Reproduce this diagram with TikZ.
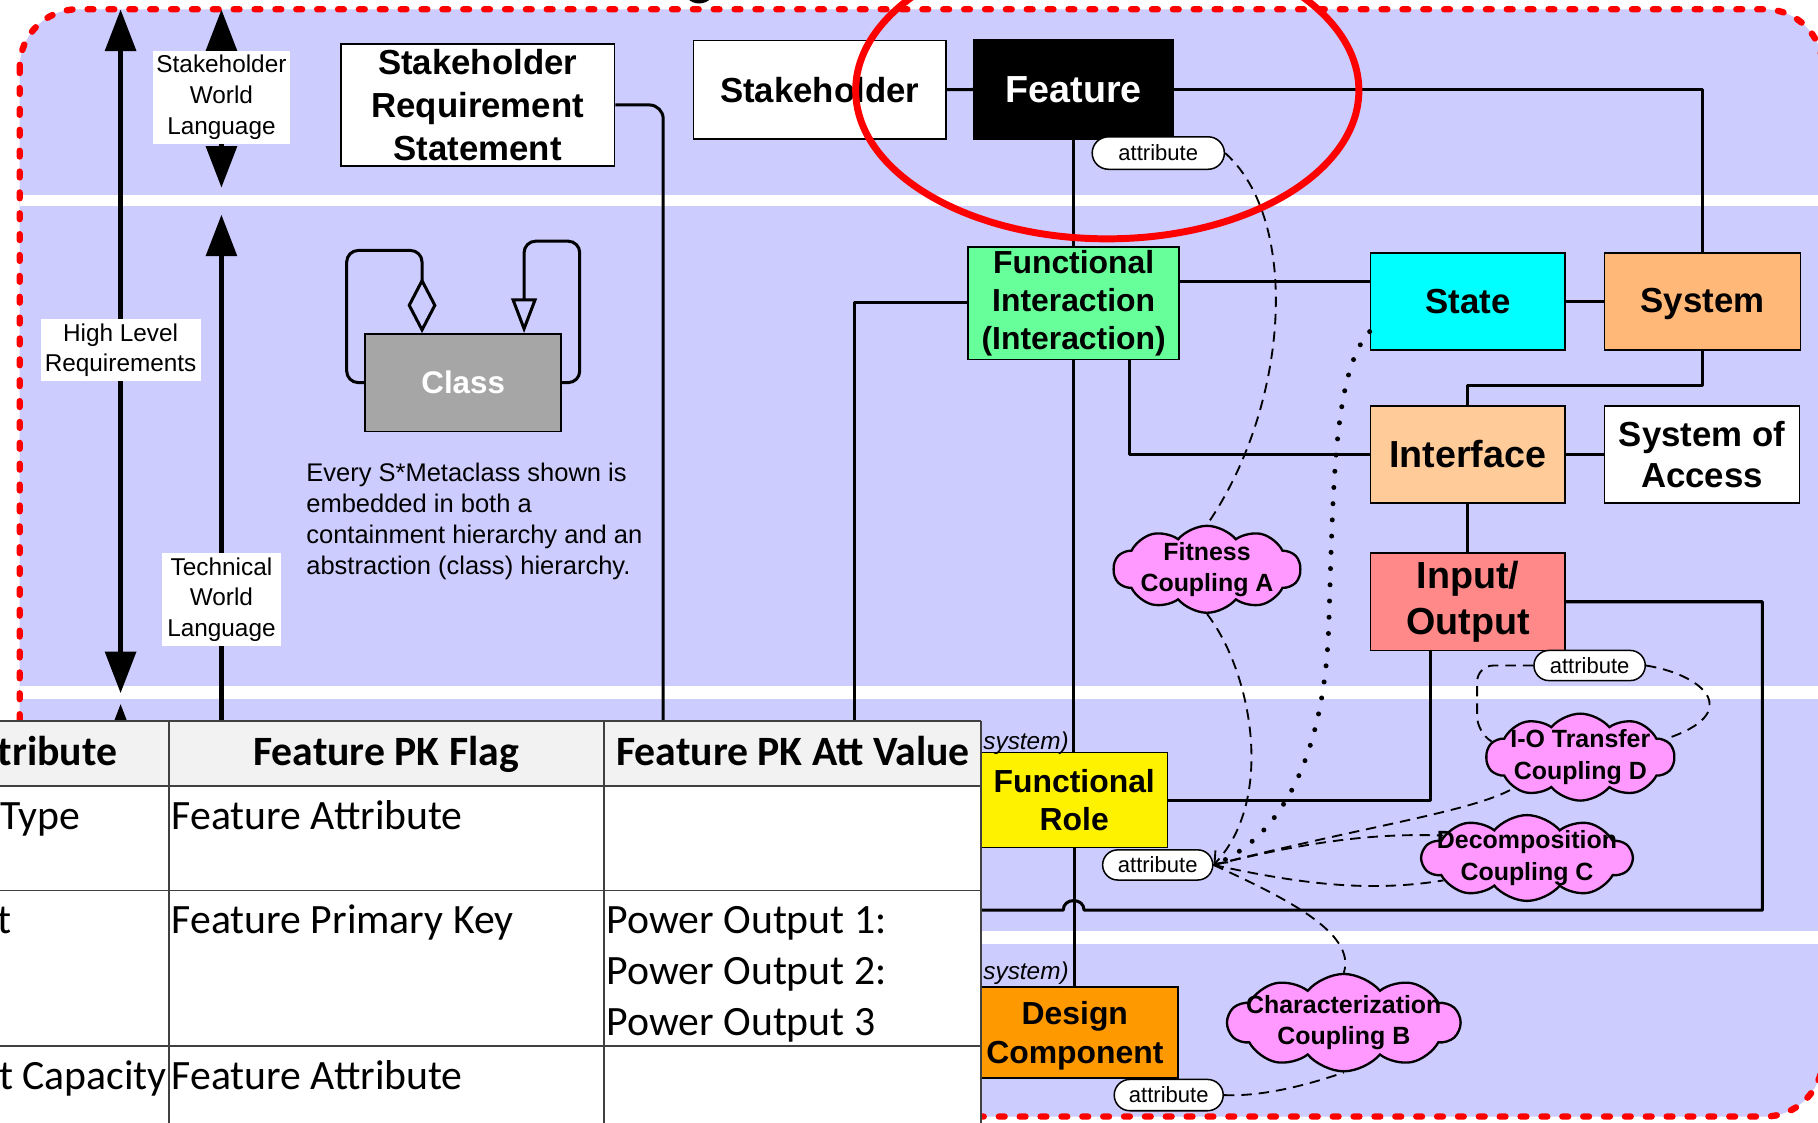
\documentclass[tikz,border=0pt]{standalone}
\usepackage{fontspec}
\setmainfont{Liberation Sans}
\newfontfamily\tabfont{Carlito}
\usetikzlibrary{arrows.meta,shapes.symbols,shapes.misc}

\definecolor{lav}{HTML}{CCCCFF}
\definecolor{figreen}{HTML}{66FF99}
\definecolor{statecyan}{HTML}{00FFFF}
\definecolor{sysorange}{HTML}{FFB877}
\definecolor{intpeach}{HTML}{FFCC99}
\definecolor{iosalmon}{HTML}{FF8888}
\definecolor{dcorange}{HTML}{FF9900}
\definecolor{clsgrey}{HTML}{A6A6A6}
\definecolor{cloudpink}{HTML}{FF99FF}
\definecolor{hdrgrey}{HTML}{F2F2F2}
\definecolor{gridgrey}{HTML}{404040}
\definecolor{ovalred}{HTML}{FF0000}

\newcommand\fsz[2]{\fontsize{#1}{#2}\selectfont}
\newcommand\bfs[2]{\bfseries\fontsize{#1}{#2}\selectfont}

\tikzset{
  bigtip/.tip={Triangle[length=36pt,width=26pt]},
  box/.style={draw=black, line width=1.4pt, align=center, inner sep=0pt},
  conn/.style={line width=2.6pt, line join=round},
  link/.style={line width=1.6pt, dash pattern=on 9pt off 6pt},
  dotlink/.style={line width=4.3pt, line cap=round, dash pattern=on 0pt off 14pt},
  pill/.style={draw=black, fill=white, line width=1.3pt, rounded rectangle,
    inner sep=0pt, font=\fsz{19}{22}},
  coupling/.style={cloud, cloud puffs=10, cloud puff arc=100, cloud ignores aspect,
    draw=black, line width=2pt, fill=cloudpink, inner sep=0pt},
  cloudtext/.style={align=center, inner sep=0pt, font=\bfs{21.5}{27}},
  sidelabel/.style={fill=white, align=center, inner sep=2pt, font=\fsz{21}{26.5}},
  bigarrow/.style={line width=5pt},
  hdr/.style={inner sep=0pt, font=\tabfont\bfseries\fsz{36}{44}},
  cell/.style={inner sep=0pt, font=\tabfont\fsz{36}{44}},
}

\begin{document}
\begin{tikzpicture}[x=1pt,y=-1pt]
\useasboundingbox (0,0) rectangle (1568,968);
\clip (0,0) rectangle (1568,968);
\fill[white] (0,0) rectangle (1568,968);

% lavender canvas and the white bands between layers
\fill[lav, rounded corners=50pt] (17,8) rectangle (1572,963);
\fill[white] (17,168) rectangle (1572,178);
\fill[white] (17,592) rectangle (1572,603);
\fill[white] (17,803) rectangle (1572,814);

\fill (603,-11) circle[radius=14pt];

% ---------- metaclass boxes ----------
\node[box, fill=white, minimum width=236pt, minimum height=105pt, font=\bfs{30}{37}] (srs) at (412,90.5) {Stakeholder\\Requirement\\Statement};
\node[box, fill=white, minimum width=218pt, minimum height=85pt, font=\bfs{30}{36}] (stk) at (707,77.5) {Stakeholder};
\node[box, fill=black, text=white, minimum width=172pt, minimum height=86pt, font=\bfs{32.5}{38}] (feat) at (926,77) {Feature};
\node[box, fill=figreen, minimum width=182pt, minimum height=97pt, font=\bfs{27.5}{33}] (fi) at (926,261.5) {Functional\\Interaction\\(Interaction)};
\node[box, fill=statecyan, minimum width=168pt, minimum height=84pt, font=\bfs{30}{36}] (state) at (1266,260) {State};
\node[box, fill=sysorange, minimum width=169pt, minimum height=84pt, font=\bfs{30}{36}, text depth=2pt] (sys) at (1468.5,260) {System};
\node[box, fill=intpeach, minimum width=168pt, minimum height=84pt, font=\bfs{32.5}{38}] (intf) at (1266,392) {Interface};
\node[box, fill=white, minimum width=168pt, minimum height=84pt, font=\bfs{30}{36}] (soa) at (1468,392) {System of\\Access};
\node[box, fill=iosalmon, minimum width=168pt, minimum height=84pt, font=\bfs{32.5}{40}] (io) at (1266,519) {Input/\\Output};
\node[box, fill=yellow, minimum width=161pt, minimum height=82pt, font=\bfs{27.5}{33}] (fr) at (926.5,690) {Functional\\Role};
\node[box, fill=dcorange, minimum width=170pt, minimum height=79pt, font=\bfs{27.5}{34}, text depth=0pt] (dc) at (931,890.5) {\hspace*{-8pt}Design\\\hspace*{-8pt}Component};
\node[box, fill=clsgrey, text=white, minimum width=169pt, minimum height=84pt, font=\bfs{27}{33}] (cls) at (399.5,330) {Class};

% attribute tags
\node[pill, minimum width=114pt, minimum height=28pt] (attrF) at (999,132) {attribute};
\node[pill, minimum width=96pt, minimum height=26pt] (attrIO) at (1371,574) {attribute};
\node[pill, minimum width=95pt, minimum height=26pt] (attrFR) at (998.5,746) {attribute};
\node[pill, minimum width=94pt, minimum height=27pt] (attrDC) at (1008,944.5) {attribute};

% coupling clouds
\node[coupling, minimum width=161pt, minimum height=75pt,
  label={[cloudtext]center:{Fitness\\Coupling A}}] (cplA) at (1041,491) {};
\node[coupling, minimum width=162pt, minimum height=75pt,
  label={[cloudtext]center:{I-O Transfer\\Coupling D}}] (cplD) at (1363,653) {};
\node[coupling, minimum width=181pt, minimum height=74pt,
  label={[cloudtext]center:{Decomposition\\Coupling C}}] (cplC) at (1317,740) {};
\node[coupling, minimum width=200pt, minimum height=84pt,
  label={[cloudtext]center:{Characterization\\Coupling B}}] (cplB) at (1159,882) {};

% ---------- relationships ----------
\coordinate (tabS) at (572,640);
\coordinate (tabA) at (737,640);
\coordinate (loopEnd) at (840,785);
\draw[conn, rounded corners=12pt] (srs.east) -| (tabS);
\draw[conn] (stk) -- (feat);
\draw[conn] (feat.east) -| (sys.north);
\draw[conn] (feat.south) -- (fi.north);
\draw[conn] ([yshift=18.5pt]fi.east) -- ([yshift=18.5pt]fi.east -| state.west);
\draw[conn] ([yshift=1pt]fi.west) -| (tabA);
\draw[conn] ([xshift=48pt]fi.south) |- (intf.west);
\draw[conn] (fi.south) -- (fi.south |- fr.north);
\draw[conn] (state) -- (sys);
\draw[conn] (sys.south) -- ++(0,30) -| (intf.north);
\draw[conn] (intf) -- (soa);
\draw[conn] (intf) -- (io);
\draw[conn] ([xshift=-32pt]io.south) |- (fr.east);
\draw[conn] (io.east) -| (1520,785) -- (935,785) .. controls (935,774) and (917,774) .. (917,785) -- (loopEnd);
\draw[conn] (fr.south) -- (fr.south |- dc.north);

% self relationships of the metaclass
\draw[line width=2.6pt, rounded corners=10pt, -{Diamond[open,length=48pt,width=25pt]}]
  (cls.west) -- (299,330) -- (299,216) -- (364,216) -- ([xshift=-35.5pt]cls.north);
\draw[line width=2.6pt, rounded corners=10pt, -{Triangle[open,length=30pt,width=22pt]}]
  (cls.east) -- (500,330) -- (500,208) -- (452,208) -- ([xshift=52.5pt]cls.north);

% attribute couplings
\draw[link] (attrF.east) .. controls (1122,190) and (1112,350) .. (cplA.north);
\draw[link, -{Straight Barb[length=9pt,width=15pt]}] (cplA.south) .. controls (1080,580) and (1100,690) .. (attrFR.east);
\draw[dotlink] ([yshift=-26pt]state.west) .. controls (1150,320) and (1150,420) .. (1146,540)
  .. controls (1142,660) and (1100,725) .. (attrFR.east);
\draw[link] (attrFR.east) .. controls (1180,712) and (1270,700) .. (cplD.205);
\draw[link] (attrFR.east) .. controls (1120,728) and (1180,718) .. (cplC.165);
\draw[link] (attrFR.east) .. controls (1120,762) and (1180,770) .. (cplC.195);
\draw[link] (attrFR.east) .. controls (1110,775) and (1170,805) .. (cplB.north);
\draw[link] (attrDC.east) .. controls (1090,946) and (1130,935) .. (cplB.south);
\draw[link, rounded corners=14pt] (attrIO.west) -- (1274,574) -- (1274,632) -- (cplD.170);
\draw[link] (attrIO.east) .. controls (1470,582) and (1505,615) .. (cplD.12);

% ---------- language scale on the left ----------
\coordinate (hlTop) at (104,8);
\coordinate (hlBot) at (104,598);
\coordinate (hlTip) at (104,607);
\coordinate (hlLow) at (104,660);
\coordinate (swTop) at (191,8);
\coordinate (swBot) at (191,162);
\coordinate (twTip) at (191,185);
\coordinate (twLow) at (191,660);
\draw[bigarrow, bigtip-bigtip] (hlTop) -- (hlBot);
\draw[bigarrow, -bigtip] (hlLow) -- (hlTip);
\draw[bigarrow, bigtip-bigtip] (swTop) -- (swBot);
\draw[bigarrow, -bigtip] (twLow) -- (twTip);
\node[sidelabel, minimum width=138pt, minimum height=53pt] (hlLabel) at (104,302) {High Level\\Requirements};
\node[sidelabel, minimum width=118pt, minimum height=80pt] (swLabel) at (191,84) {Stakeholder\\World\\Language};
\node[sidelabel, minimum width=102pt, minimum height=80pt] (twLabel) at (191,517) {Technical\\World\\Language};

\node[anchor=north west, align=left, inner sep=0pt, font=\fsz{22}{26.7}] (note) at (264,399)
  {Every S*Metaclass shown is\\embedded in both a\\containment hierarchy and an\\abstraction (class) hierarchy.};

\node[anchor=base west, inner sep=0pt, font=\itshape\fsz{21}{25}] (frSys) at (848,646) {system)};
\node[anchor=base west, inner sep=0pt, font=\itshape\fsz{21}{25}] (dcSys) at (848,845) {system)};

% highlight oval and dashed frame
\draw[ovalred, line width=6pt] (955,78) ellipse [x radius=217pt, y radius=128pt];
\draw[ovalred, line width=5.5pt, line cap=round, dash pattern=on 5pt off 13pt, rounded corners=50pt]
  (17,8) rectangle (1572,963);

% ---------- attribute table ----------
\fill[white] (-5,622) rectangle (846,975);
\fill[hdrgrey] (-5,622) rectangle (846,678);
\draw[gridgrey, line width=1.5pt]
  (-5,622) -- (846,622) (-5,678) -- (846,678) (-5,768) -- (846,768) (-5,902) -- (846,902)
  (146,622) -- (146,975) (521,622) -- (521,975) (846,622) -- (846,975);
\node[hdr, anchor=base west] (h1) at (-2,660) {tribute};
\node[hdr, anchor=base] (h2) at (333,660) {Feature PK Flag};
\node[hdr, anchor=base] (h3) at (684,660) {Feature PK Att Value};
\node[cell, anchor=base west] (c11) at (0,715) {Type};
\node[cell, anchor=base west] (c12) at (148,715) {Feature Attribute};
\node[cell, anchor=base west] (c21) at (-2,805) {t};
\node[cell, anchor=base west] (c22) at (148,805) {Feature Primary Key};
\node[cell, anchor=base west] (c23a) at (523,805) {Power Output 1:};
\node[cell, anchor=base west] (c23b) at (523,849) {Power Output 2:};
\node[cell, anchor=base west] (c23c) at (523,893) {Power Output 3};
\node[cell, anchor=base west] (c31) at (-1,940) {t Capacity};
\node[cell, anchor=base west] (c32) at (148,940) {Feature Attribute};
\end{tikzpicture}
\end{document}
